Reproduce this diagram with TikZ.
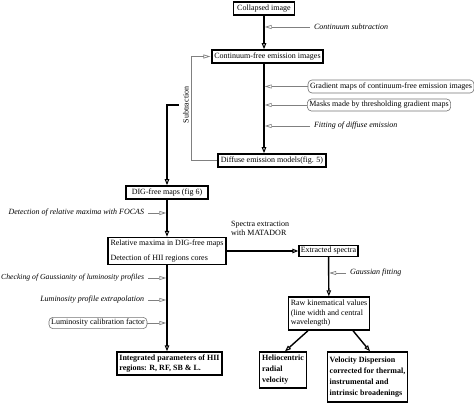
\documentclass[tikz,border=0pt]{standalone}
\usepackage{fontspec}
\setmainfont{Liberation Serif}
\usepackage{tikz}
\usetikzlibrary{arrows.meta}

\begin{document}
\begin{tikzpicture}[x=1pt, y=-1pt, every node/.style={font=\fontsize{8}{9.5}\selectfont}]
% Define styles
\tikzstyle{stage} = [rectangle, draw=black, line width=1.6pt, inner sep=2.5pt, align=left]
\tikzstyle{result} = [rectangle, draw=black, line width=1.4pt, inner sep=2.5pt, align=left, font=\fontsize{8}{9.5}\selectfont\bfseries]
\tikzstyle{input} = [rectangle, rounded corners=4pt, draw=black!55, line width=0.6pt, inner sep=2pt]
\tikzstyle{method} = [font=\fontsize{8}{9.5}\selectfont\itshape, inner sep=1pt, outer sep=3pt]
\tikzstyle{arrow} = [line width=1.4pt, -{Triangle[open, length=6pt, width=4.5pt, line width=1pt]}]
\tikzstyle{feed} = [draw=black!50, line width=0.6pt, shorten >=0.7pt, -{Triangle[open, length=7pt, width=4pt, line width=0.7pt]}]
\useasboundingbox (0,0) rectangle (474,403);
% Place nodes
\node (collapsed) [stage, minimum width=61pt, minimum height=13pt] at (264,8.5) {Collapsed image};
\node (contsub) [method, anchor=west] at (310,27) {Continuum subtraction};
\node (contfree) [stage, minimum width=111pt, minimum height=13pt] at (267.5,56.5) {Continuum-free emission images};
\node (gradient) [input, minimum width=164pt, minimum height=13pt] at (391,86.5) {Gradient maps of continuum-free emission images};
\node (masks) [input, minimum width=140pt, minimum height=12pt] at (379,105) {Masks made by thresholding gradient maps};
\node (fitting) [method, anchor=west] at (310,126) {Fitting of diffuse emission};
\node (diffuse) [stage, minimum width=108pt, minimum height=13pt] at (272,160.5) {Diffuse emission models(fig. 5)};
\node (subtr) [rotate=90, inner sep=1pt] at (186,105) {Subtraction};
\coordinate (sub) at (179,105);
\node (digfree) [stage, minimum width=82pt, minimum height=13pt] at (167,192.5) {DIG-free maps (fig 6)};
\node (focas) [method, anchor=east] at (148,213) {Detection of relative maxima with FOCAS};
\node (relmax) [stage, minimum width=114pt, minimum height=25pt] at (167,251) {Relative maxima in DIG-free maps\\[5pt]Detection of HII regions cores};
\node (gausscheck) [method, anchor=east, font=\fontsize{7.7}{9}\selectfont\itshape] at (148,278) {Checking of Gaussianity of luminosity profiles};
\node (extrap) [method, anchor=east] at (148,300) {Luminosity profile extrapolation};
\node (lumcal) [input, minimum width=98pt, minimum height=11pt] at (98,323) {Luminosity calibration factor};
\node (integ) [result, minimum width=105pt, minimum height=23pt] at (169.5,363.5) {Integrated parameters of HII\\regions: R, RF, SB \& L.};
\node (spectra) [anchor=north west, align=left, inner sep=0pt] at (231,221) {Spectra extraction\\with MATADOR};
\node (extracted) [stage, line width=1.4pt, minimum width=59pt, minimum height=11pt, inner sep=1.5pt] at (328.5,251) {Extracted spectra};
\node (gaussfit) [method, anchor=west] at (346,273) {Gaussian fitting};
\node (raw) [stage, line width=1.4pt, minimum width=78pt, minimum height=33pt, inner sep=2pt] at (329,313.5) {Raw kinematical values\\(line width and central\\wavelength)};
\node (helio) [result, minimum width=46pt, minimum height=36pt] at (283,370) {Heliocentric\\[1.5pt]radial\\[1.5pt]velocity};
\node (veldisp) [result, minimum width=79pt, minimum height=50pt] at (367.5,377) {Velocity Dispersion\\[1.5pt]corrected for thermal,\\[1.5pt]instrumental and\\[1.5pt]intrinsic broadenings};
% Draw arrows
\draw [arrow] (collapsed) -- (collapsed.south |- contfree.north);
\draw [arrow] (collapsed.south |- contfree.south) -- (collapsed.south |- diffuse.north);
\draw [feed] (contsub) -- (contsub -| collapsed.south);
\draw [feed] (gradient) -- (gradient -| collapsed.south);
\draw [feed] (masks) -- (masks -| collapsed.south);
\draw [feed] (fitting) -- (fitting -| collapsed.south);
\draw [feed] (diffuse.west) -- ++(-26,0) |- (contfree.west);
\draw [arrow] (sub) -| (digfree.north);
\draw [arrow] (digfree) -- (digfree.south |- relmax.north);
\draw [feed] (focas) -- (focas -| digfree.south);
\draw [arrow] (relmax) -- (relmax.south |- integ.north);
\draw [feed] (gausscheck) -- (gausscheck -| relmax.south);
\draw [feed] (extrap) -- (extrap -| relmax.south);
\draw [feed] (lumcal) -- (lumcal -| relmax.south);
\draw [arrow] (relmax) -- (extracted);
\draw [arrow] (extracted) -- (raw);
\draw [feed] (gaussfit) -- (gaussfit -| extracted.south);
\draw [arrow] ([xshift=-21pt]raw.south) -- ([xshift=2pt]helio.north);
\draw [arrow] ([xshift=24pt]raw.south) -- ([xshift=2.5pt]veldisp.north);
\end{tikzpicture}
\end{document}
